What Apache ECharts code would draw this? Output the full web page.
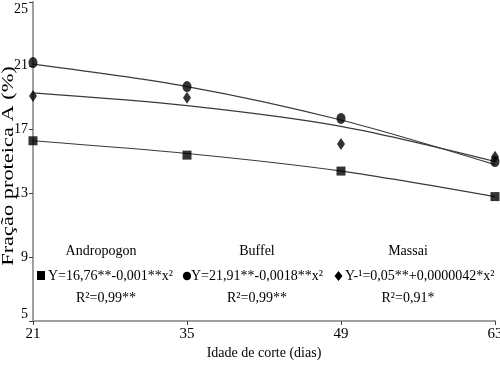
<!DOCTYPE html>
<html>
<head>
<meta charset="utf-8">
<script src="https://cdn.jsdelivr.net/npm/echarts@6/dist/echarts.min.js"></script>
<style>
  html, body { margin: 0; padding: 0; background: #fff; }
  #chart { width: 500px; height: 366px; }
</style>
</head>
<body>
<div id="chart"></div>
<script>
// idade de corte (dias)
var dias = [21, 35, 49, 63];

// pontos observados
var andropogon = [16.3, 15.4, 14.4, 12.8];
var buffel = [21.2, 19.7, 17.7, 15.0];
var massai = [19.1, 19.0, 16.1, 15.3];

// curvas ajustadas
var andropogonAjust = [16.3, 15.5, 14.4, 12.8];
var buffelAjust = [21.1, 19.7, 17.6, 14.8];
var massaiAjust = [19.3, 18.5, 17.2, 15.0];

var yTicks = [5, 9, 13, 17, 21, 25];

function pares(xs, ys) {
  return xs.map(function (x, i) { return [x, ys[i]]; });
}

var chart = echarts.init(document.getElementById('chart'));
var fonte = '"Liberation Serif", "Times New Roman", serif';

function linha(dados) {
  return {
    type: 'line',
    data: pares(dias, dados),
    smooth: 0.3,
    showSymbol: false,
    lineStyle: { color: '#3a3a3a', width: 1.2 },
    z: 1,
    animation: false
  };
}

function pontos(dados, simbolo, tam) {
  return {
    type: 'scatter',
    data: pares(dias, dados),
    symbol: simbolo,
    symbolSize: tam,
    itemStyle: { color: '#000' },
    z: 3,
    animation: false
  };
}

var txt = { fill: '#000', font: '14px ' + fonte };

function texto(x, y, s, align) {
  return {
    type: 'text', x: x, y: y,
    style: Object.assign({ text: s, textAlign: align || 'center', textVerticalAlign: 'middle' }, txt)
  };
}

var option = {
  backgroundColor: '#fff',
  animation: false,
  grid: { left: 33, right: 5, top: 2, bottom: 45, outerBoundsMode: 'none', containLabel: false },
  xAxis: {
    type: 'value',
    min: 21, max: 63, interval: 14,
    name: 'Idade de corte (dias)',
    nameLocation: 'middle',
    nameGap: 25,
    nameMoveOverlap: false,
    nameTextStyle: { color: '#000', fontFamily: fonte, fontSize: 14 },
    axisLine: { lineStyle: { color: '#a0a0a0', width: 2 } },
    axisTick: { show: true, length: 4, lineStyle: { color: '#444' } },
    axisLabel: { color: '#000', fontFamily: fonte, fontSize: 15, margin: 6 },
    splitLine: { show: false }
  },
  yAxis: {
    type: 'value',
    min: yTicks[0], max: yTicks[yTicks.length - 1], interval: 4,
    axisLine: { show: true, lineStyle: { color: '#a0a0a0', width: 2 } },
    axisTick: { show: true, length: 4, lineStyle: { color: '#444' } },
    axisLabel: {
      color: '#000', fontFamily: fonte, fontSize: 14, margin: 5,
      verticalAlignMaxLabel: 'top', verticalAlignMinLabel: 'bottom'
    },
    splitLine: { show: false }
  },
  series: [
    linha(andropogonAjust),
    linha(buffelAjust),
    linha(massaiAjust),
    pontos(andropogon, 'rect', 9),
    pontos(buffel, 'circle', [9, 11]),
    pontos(massai, 'diamond', [8, 12])
  ],
  graphic: [
    // titulo do eixo y (esticado como no original)
    {
      type: 'text', x: 9, y: 166, rotation: Math.PI / 2, scaleX: 1.4,
      style: { text: 'Fração proteica A (%)', fill: '#000', font: '16px ' + fonte, textAlign: 'center', textVerticalAlign: 'middle' }
    },

    texto(101, 251, 'Andropogon'),
    { type: 'rect', shape: { x: 37, y: 271, width: 8, height: 9 }, style: { fill: '#000' } },
    texto(48, 276, 'Y=16,76**-0,001**x²', 'left'),
    texto(106, 298, 'R²=0,99**'),

    texto(257, 251, 'Buffel'),
    { type: 'circle', shape: { cx: 187, cy: 276, r: 4.2 }, style: { fill: '#000' } },
    texto(191, 276, 'Y=21,91**-0,0018**x²', 'left'),
    texto(257, 298, 'R²=0,99**'),

    texto(408, 251, 'Massai'),
    { type: 'polygon', shape: { points: [[338.5, 271], [342.5, 276], [338.5, 281], [334.5, 276]] }, style: { fill: '#000' } },
    texto(345, 276, 'Y-¹=0,05**+0,0000042*x²', 'left'),
    texto(408, 298, 'R²=0,91*')
  ]
};

chart.setOption(option);
</script>
</body>
</html>
